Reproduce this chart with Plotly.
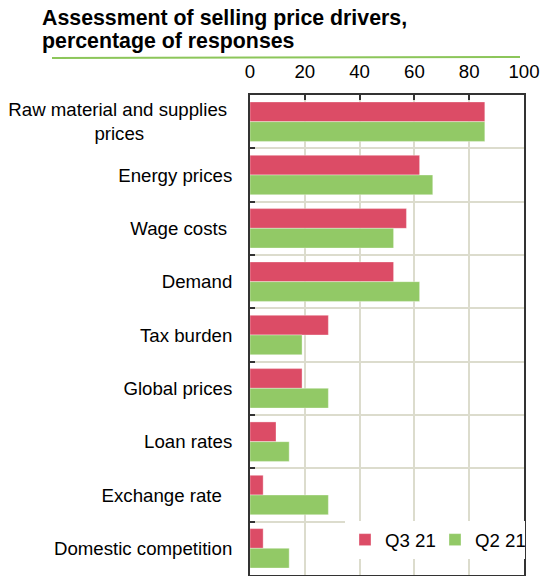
import plotly.graph_objects as go

# Survey results: share of respondents naming each driver of selling prices
categories = [
    "Raw material and supplies prices",
    "Energy prices",
    "Wage costs",
    "Demand",
    "Tax burden",
    "Global prices",
    "Loan rates",
    "Exchange rate",
    "Domestic competition",
]
q3_21 = [85.7, 61.9, 57.1, 52.4, 28.6, 19.0, 9.5, 4.8, 4.8]
q2_21 = [85.7, 66.7, 52.4, 61.9, 19.0, 28.6, 14.3, 28.6, 14.3]
x_ticks = [0, 20, 40, 60, 80, 100]

NB = "\u00a0"
# Displayed category labels (wrapped / padded the way the chart lays them out)
display_labels = {
    "Raw material and supplies prices": "Raw material and supplies" + NB + "<br>prices" + NB * 17,
    "Wage costs": "Wage costs" + NB,
    "Exchange rate": "Exchange rate" + NB * 2,
}
ticktext = [display_labels.get(c, c) for c in categories]

W, H = 542, 576
L, R, T, B = 250, 18, 95, 1
PW, PH = W - L - R, H - T - B


def px_x(px):
    return (px - L) / PW


def px_y(py):
    return (H - B - py) / PH


FONT = "Liberation Sans, Arial, sans-serif"
RED = "#dc4c66"
GREEN = "#92c966"
GRID = "#dcdccd"
FRAME = "#333333"

fig = go.Figure()
fig.add_trace(go.Bar(
    y=categories, x=q3_21, name="Q3 21", orientation="h",
    marker=dict(color=RED, line=dict(color="rgba(255,255,255,0.35)", width=1)),
))
fig.add_trace(go.Bar(
    y=categories, x=q2_21, name="Q2 21", orientation="h",
    marker=dict(color=GREEN, line=dict(color="rgba(255,255,255,0.35)", width=1)),
))

fig.update_layout(
    width=W, height=H,
    margin=dict(l=L, r=R, t=T, b=B, autoexpand=False),
    paper_bgcolor="white", plot_bgcolor="white",
    barmode="group", bargap=0.26, bargroupgap=0,
    font=dict(family=FONT, size=18.67, color="black"),
    showlegend=True,
    legend=dict(
        orientation="h", traceorder="normal",
        x=px_x(345), xanchor="left", y=px_y(540), yanchor="middle",
        bgcolor="white", borderwidth=0,
        font=dict(family=FONT, size=18.67, color="black"),
        entrywidth=45,
    ),
    xaxis=dict(
        side="top", range=[0, 100], tickvals=x_ticks,
        ticks="inside", ticklen=5, tickwidth=1.5, tickcolor=FRAME,
        showgrid=True, gridcolor=GRID, gridwidth=1.5,
        zeroline=False, showline=True, mirror=True,
        linecolor=FRAME, linewidth=2, automargin=False,
        ticklabelstandoff=8,
        tickfont=dict(family=FONT, size=18.67, color="black"),
    ),
    yaxis=dict(
        autorange="reversed", tickmode="array",
        tickvals=categories, ticktext=ticktext,
        tickson="boundaries", ticks="inside", ticklen=5, tickwidth=1.5,
        tickcolor=FRAME, showgrid=True, gridcolor=GRID, gridwidth=1.5,
        showline=True, mirror=True, linecolor=FRAME, linewidth=2,
        automargin=False, ticklabelstandoff=12,
        tickfont=dict(family=FONT, size=18.67, color="black"),
    ),
)

# Two-line heading above the chart
title_font = dict(family=FONT, size=21.33, color="black")
for text, base in [("<b>Assessment of selling price drivers,</b>", 25),
                   ("<b>percentage of responses</b>", 48)]:
    fig.add_annotation(
        text=text, xref="paper", yref="paper",
        x=px_x(41), y=px_y(base - 7.4), xanchor="left", yanchor="middle",
        showarrow=False, font=title_font, borderpad=0,
    )

# Green rule under the heading
fig.add_shape(
    type="line", xref="paper", yref="paper",
    x0=px_x(52), x1=px_x(520), y0=px_y(58), y1=px_y(57),
    line=dict(color="#8cc65a", width=2),
)

fig.write_html("out.html")
